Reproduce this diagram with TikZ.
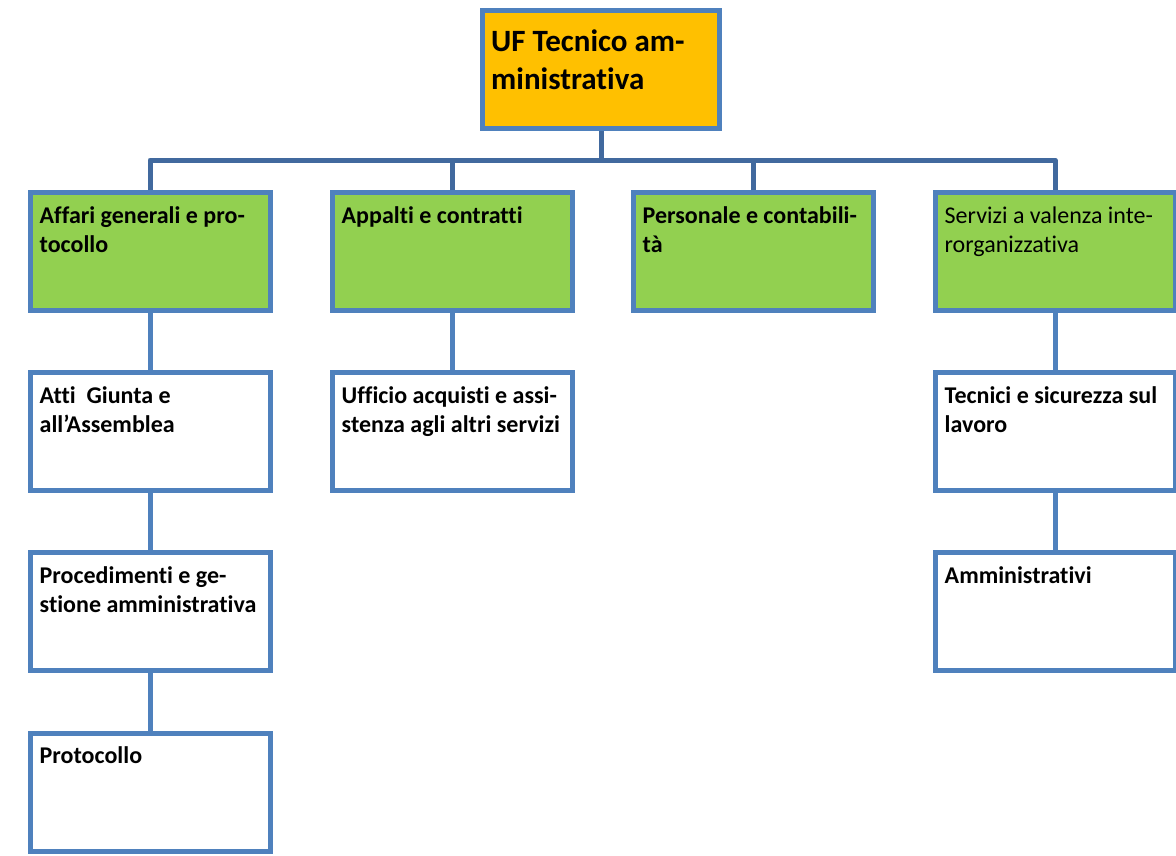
\documentclass[tikz,border=0pt]{standalone}
\usepackage{fontspec}
\setmainfont[Ligatures=NoCommon]{Carlito}
\definecolor{boxblue}{HTML}{4F81BD}
\definecolor{busblue}{HTML}{41699E}
\definecolor{topfill}{HTML}{FFC000}
\definecolor{greenfill}{HTML}{92D050}
\tikzset{
  unit/.style={draw=boxblue, line width=5pt, minimum width=240pt, minimum height=118pt, inner sep=0pt, fill=white},
  topunit/.style={unit, fill=topfill, minimum width=237pt},
  greenunit/.style={unit, fill=greenfill},
  txt/.style={anchor=north west, inner sep=0pt, align=left, font=\fontsize{24}{29}\selectfont\bfseries},
  txtreg/.style={txt, font=\fontsize{24}{29}\selectfont},
  toptxt/.style={anchor=north west, inner sep=0pt, align=left, font=\fontsize{31}{38}\selectfont\bfseries},
  bus/.style={draw=busblue, line width=5pt, line join=round},
  link/.style={draw=boxblue, line width=5pt}
}
\begin{document}
\begin{tikzpicture}[x=1pt,y=-1pt]
\useasboundingbox (0,0) rectangle (1176,855);
% boxes
\node[topunit] (top) at (601,69.5) {};
\node[greenunit] (g1) at (150,251.5) {};
\node[greenunit] (g2) at (452,251.5) {};
\node[greenunit] (g3) at (753,251.5) {};
\node[greenunit] (g4) at (1055,251.5) {};
\node[unit] (a1) at (150,431.5) {};
\node[unit] (a2) at (150,611.5) {};
\node[unit] (a3) at (150,792) {};
\node[unit] (b1) at (452,431.5) {};
\node[unit] (d1) at (1055,431.5) {};
\node[unit] (d2) at (1055,611.5) {};
% connectors
\coordinate (jn) at (601,160);
\draw[bus] (top.south) -- (jn);
\draw[bus] (g1.north) |- (jn) -| (g4.north);
\draw[bus] (g2.north) -- (g2.north |- jn);
\draw[bus] (g3.north) -- (g3.north |- jn);
\draw[link] (g1.south) -- (a1.north);
\draw[link] (a1.south) -- (a2.north);
\draw[link] (a2.south) -- (a3.north);
\draw[link] (g2.south) -- (b1.north);
\draw[link] (g4.south) -- (d1.north);
\draw[link] (d1.south) -- (d2.north);
% texts
\node[toptxt] (topt) at ([shift={(11,16.5)}]top.north west) {\strut UF Tecnico am-\\ministrativa};
\node[txt] (g1t) at ([shift={(12,12.5)}]g1.north west) {\strut Affari generali e pro-\\tocollo};
\node[txt] (g2t) at ([shift={(12,12.5)}]g2.north west) {\strut Appalti e contratti};
\node[txt] (g3t) at ([shift={(12,12.5)}]g3.north west) {\strut Personale e contabili-\\tà};
\node[txtreg] (g4t) at ([shift={(12,12.5)}]g4.north west) {\strut Servizi a valenza inte-\\rorganizzativa};
\node[txt] (a1t) at ([shift={(12,12.5)}]a1.north west) {\strut Atti\ \ Giunta e\\all’Assemblea};
\node[txt] (a2t) at ([shift={(12,12.5)}]a2.north west) {\strut Procedimenti e ge-\\stione amministrativa};
\node[txt] (a3t) at ([shift={(12,12.5)}]a3.north west) {\strut Protocollo};
\node[txt] (b1t) at ([shift={(12,12.5)}]b1.north west) {\strut Ufficio acquisti e assi-\\stenza agli altri servizi};
\node[txt] (d1t) at ([shift={(12,12.5)}]d1.north west) {\strut Tecnici e sicurezza sul\\lavoro};
\node[txt] (d2t) at ([shift={(12,12.5)}]d2.north west) {\strut Amministrativi};
\end{tikzpicture}
\end{document}
